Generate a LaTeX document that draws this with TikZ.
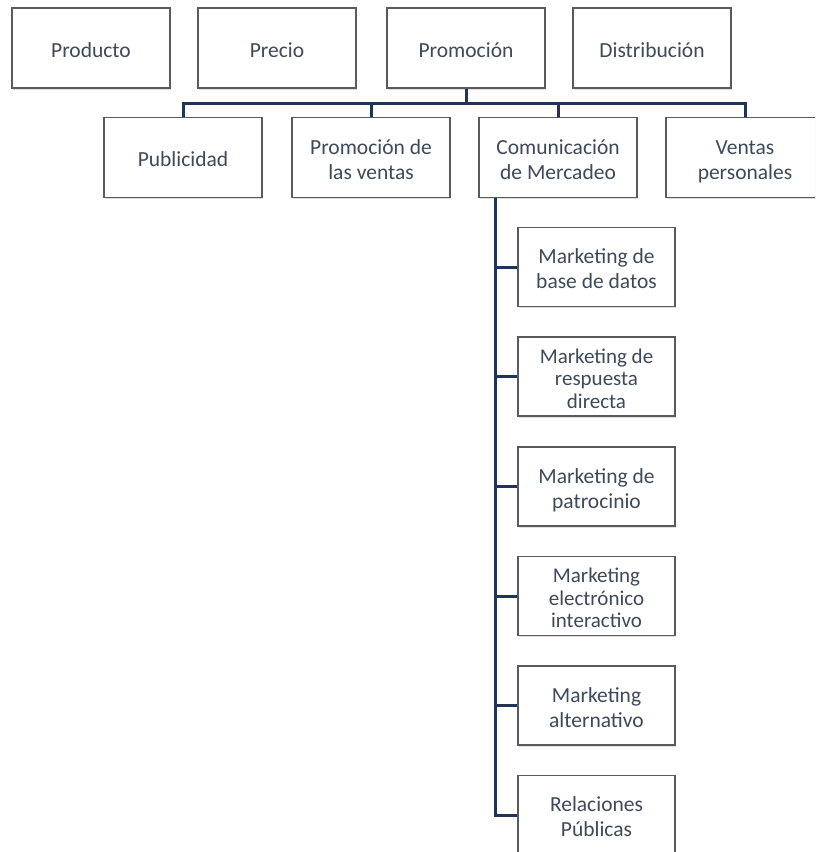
\documentclass[tikz,border=0pt]{standalone}
\usepackage{fontspec}
\setmainfont{Carlito}
\usetikzlibrary{shadows}
\definecolor{txtc}{HTML}{3E4A5A}
\definecolor{brd}{HTML}{5A5A5A}
\definecolor{conc}{HTML}{1F3457}
\newcommand{\bh}{\rule{0pt}{24pt}}
\newcommand{\bd}{\rule[-6pt]{0pt}{6pt}}
\tikzset{
  orgbox/.style={draw=brd, line width=1.2pt, fill=white, minimum width=158pt, minimum height=80pt,
    align=center, text=txtc, font=\fontsize{21.5}{25}\selectfont, inner sep=0pt,
    drop shadow={shadow xshift=1pt, shadow yshift=-1.5pt, opacity=0.25}},
  subbox/.style={orgbox, minimum width=157pt, minimum height=79pt},
  subboxthree/.style={subbox, font=\fontsize{21}{22.5}\selectfont},
  conn/.style={draw=conc, line width=3pt, line cap=butt, line join=miter}
}
\begin{document}
\begin{tikzpicture}[x=1pt,y=-1pt]
\useasboundingbox (0,0) rectangle (815,852);
\clip (0,0) rectangle (815,852);
\node[orgbox] (prod) at (91,48) {\bh Producto\bd};
\node[orgbox] (prec) at (277,48) {\bh Precio\bd};
\node[orgbox] (prom) at (466,48) {\bh Promoción\bd};
\node[orgbox] (dist) at (652,48) {\bh Distribución\bd};
\coordinate (bus) at (0,103);
\node[orgbox] (pub) at (183,157.5) {\bh Publicidad\bd};
\node[orgbox] (pv) at (371,157.5) {\bh Promoción de\\las ventas\bd};
\node[orgbox] (com) at (558,157.5) {\bh Comunicación\\de Mercadeo\bd};
\node[orgbox] (vent) at (745,157.5) {\bh Ventas\\personales\bd};
\coordinate (trunk) at ([xshift=17pt]com.south west);
\node[subbox] (m1) at (596.5,267) {\bh Marketing de\\base de datos\bd};
\node[subboxthree] (m2) at (596.5,376.5) {\bh Marketing de\\respuesta\\directa\bd};
\node[subbox] (m3) at (596.5,486.5) {\bh Marketing de\\patrocinio\bd};
\node[subboxthree] (m4) at (596.5,596) {\bh Marketing\\electrónico\\interactivo\bd};
\node[subbox] (m5) at (596.5,705.5) {\bh Marketing\\alternativo\bd};
\node[subbox] (m6) at (596.5,815) {\bh Relaciones\\Públicas\bd};
\draw[conn] (prom.south) -- (prom.south |- bus);
\draw[conn] (pub.north) -- (pub.north |- bus) -- (vent.north |- bus) -- (vent.north);
\draw[conn] (pv.north) -- (pv.north |- bus);
\draw[conn] (com.north) -- (com.north |- bus);
\draw[conn] (trunk) |- (m6.west);
\foreach \m in {m1,m2,m3,m4,m5}{
  \draw[conn] (\m.west) -- (\m.west -| trunk);
}
\end{tikzpicture}
\end{document}
